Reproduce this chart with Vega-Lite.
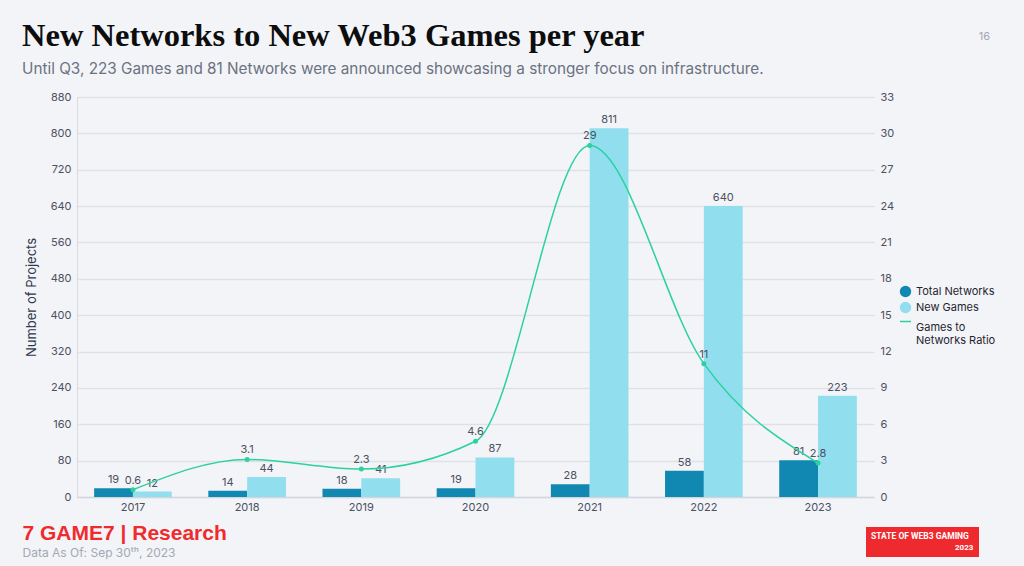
{
  "$schema": "https://vega.github.io/schema/vega-lite/v6.json",
  "width": 797,
  "height": 400,
  "autosize": {"type": "none"},
  "padding": {"left": 77, "top": 97, "right": 150, "bottom": 69},
  "background": "#f3f4f8",
  "title": {
    "text": "New Networks to New Web3 Games per year",
    "subtitle": "Until Q3, 223 Games and 81 Networks were announced showcasing a stronger focus on infrastructure.",
    "anchor": "start",
    "frame": "group",
    "dx": -55,
    "offset": -47,
    "font": "Liberation Serif",
    "fontSize": 32.5,
    "fontWeight": "bold",
    "color": "#0d0d0d",
    "subtitleFont": "Inter",
    "subtitleFontSize": 15.3,
    "subtitleColor": "#6b7280",
    "subtitlePadding": 9
  },
  "datasets": {
    "projects": [
      {"year": "2017", "series": "Total Networks", "count": 19},
      {"year": "2017", "series": "New Games", "count": 12},
      {"year": "2018", "series": "Total Networks", "count": 14},
      {"year": "2018", "series": "New Games", "count": 44},
      {"year": "2019", "series": "Total Networks", "count": 18},
      {"year": "2019", "series": "New Games", "count": 41},
      {"year": "2020", "series": "Total Networks", "count": 19},
      {"year": "2020", "series": "New Games", "count": 87},
      {"year": "2021", "series": "Total Networks", "count": 28},
      {"year": "2021", "series": "New Games", "count": 811},
      {"year": "2022", "series": "Total Networks", "count": 58},
      {"year": "2022", "series": "New Games", "count": 640},
      {"year": "2023", "series": "Total Networks", "count": 81},
      {"year": "2023", "series": "New Games", "count": 223}
    ],
    "ratio": [
      {"year": "2017", "ratio": 0.6},
      {"year": "2018", "ratio": 3.1},
      {"year": "2019", "ratio": 2.3},
      {"year": "2020", "ratio": 4.6},
      {"year": "2021", "ratio": 29},
      {"year": "2022", "ratio": 11},
      {"year": "2023", "ratio": 2.8}
    ]
  },
  "layer": [
    {
      "data": {"name": "projects"},
      "encoding": {
        "x": {
          "field": "year",
          "type": "nominal",
          "scale": {"paddingInner": 0.32, "paddingOuter": 0.15},
          "axis": {
            "title": "7 GAME7 | Research",
            "titleFont": "Liberation Sans",
            "titleFontSize": 21,
            "titleFontWeight": "bold",
            "titleColor": "#ef2b2d",
            "titleAnchor": "start",
            "titleAlign": "left",
            "titleBaseline": "alphabetic",
            "titleX": -55,
            "titleY": 42,
            "labelAngle": 0,
            "labelFont": "Inter",
            "labelFontSize": 11,
            "labelColor": "#4b5160",
            "labelPadding": 4,
            "ticks": false,
            "domainColor": "#d3d6dc",
            "domainWidth": 1.5
          }
        },
        "xOffset": {"field": "series", "sort": ["Total Networks", "New Games"]},
        "y": {
          "field": "count",
          "type": "quantitative",
          "scale": {"domain": [0, 880]},
          "axis": {
            "title": "Number of Projects",
            "titleFont": "Inter",
            "titleFontSize": 13,
            "titleFontWeight": "normal",
            "titleColor": "#2d3748",
            "titlePadding": 12,
            "values": [0, 80, 160, 240, 320, 400, 480, 560, 640, 720, 800, 880],
            "labelFont": "Inter",
            "labelFontSize": 11,
            "labelColor": "#4b5160",
            "labelPadding": 6,
            "ticks": false,
            "gridColor": "#dfe1e6",
            "gridWidth": 1.5,
            "domainColor": "#d9dbe0"
          }
        }
      },
      "layer": [
        {
          "mark": {"type": "bar"},
          "encoding": {
            "color": {
              "field": "series",
              "type": "nominal",
              "sort": ["Total Networks", "New Games"],
              "scale": {"domain": ["Total Networks", "New Games"], "range": ["#1088b1", "#91dfee"]},
              "legend": {
                "title": null,
                "orient": "none",
                "legendX": 822,
                "legendY": 188,
                "symbolType": "circle",
                "symbolSize": 130,
                "symbolOpacity": 1,
                "labelFont": "Inter",
                "labelFontSize": 11,
                "labelColor": "#1f2430",
                "rowPadding": 3
              }
            }
          }
        },
        {
          "mark": {"type": "text", "dy": -8, "font": "Inter", "fontSize": 11, "color": "#4b5160"},
          "encoding": {"text": {"field": "count", "type": "quantitative"}}
        }
      ]
    },
    {
      "data": {"name": "ratio"},
      "encoding": {
        "x": {
          "field": "year",
          "type": "nominal",
          "axis": {
            "orient": "top",
            "labels": false,
            "ticks": false,
            "domain": false,
            "grid": false,
            "title": "16",
            "titleFont": "Inter",
            "titleFontSize": 11,
            "titleFontWeight": "normal",
            "titleColor": "#a3a8b3",
            "titleAnchor": "start",
            "titleAlign": "center",
            "titleBaseline": "middle",
            "titleX": 907,
            "titleY": -61
          }
        },
        "y": {
          "field": "ratio",
          "type": "quantitative",
          "scale": {"domain": [0, 33]},
          "axis": {
            "orient": "right",
            "values": [0, 3, 6, 9, 12, 15, 18, 21, 24, 27, 30, 33],
            "grid": false,
            "domain": false,
            "ticks": false,
            "labelFont": "Inter",
            "labelFontSize": 11,
            "labelColor": "#4b5160",
            "labelPadding": 6,
            "title": "Data As Of: Sep 30ᵗʰ, 2023",
            "titleAngle": 0,
            "titleAlign": "left",
            "titleBaseline": "alphabetic",
            "titleX": -852,
            "titleY": 459,
            "titleFont": "Inter",
            "titleFontSize": 12,
            "titleFontWeight": "normal",
            "titleColor": "#a3a8b3"
          }
        }
      },
      "layer": [
        {
          "mark": {"type": "line", "interpolate": "monotone", "strokeWidth": 1.5},
          "encoding": {
            "stroke": {
              "datum": "Games to Networks Ratio",
              "scale": {"range": ["#2bd19f"]},
              "legend": {
                "title": null,
                "orient": "none",
                "legendX": 822,
                "legendY": 218,
                "symbolType": "stroke",
                "symbolStrokeWidth": 1.5,
                "symbolSize": 120,
                "labelFont": "Inter",
                "labelFontSize": 11,
                "labelColor": "#1f2430",
                "labelBaseline": "top",
                "labelOffset": 4,
                "labelExpr": "['Games to', 'Networks Ratio']"
              }
            }
          }
        },
        {
          "mark": {"type": "point", "filled": true, "size": 25, "opacity": 1, "color": "#2bd19f"},
          "encoding": {
            "shape": {
              "datum": "2023",
              "scale": {"range": ["circle"]},
              "legend": {
                "title": "STATE OF WEB3 GAMING",
                "orient": "none",
                "legendX": 789,
                "legendY": 430,
                "fillColor": "#ee2a2e",
                "padding": 5,
                "titleFont": "Roboto",
                "titleFontSize": 8.5,
                "titleFontWeight": "bold",
                "titleColor": "#ffffff",
                "titlePadding": 3,
                "symbolOpacity": 0,
                "symbolSize": 1,
                "labelFont": "Roboto",
                "labelFontSize": 8,
                "labelFontWeight": "bold",
                "labelColor": "#ffffff",
                "labelOffset": 76
              }
            }
          }
        },
        {
          "mark": {"type": "text", "dy": -9, "font": "Inter", "fontSize": 11, "color": "#4b5160"},
          "encoding": {"text": {"field": "ratio", "type": "quantitative"}}
        }
      ]
    }
  ],
  "resolve": {"scale": {"y": "independent"}, "axis": {"x": "independent"}},
  "config": {
    "view": {"stroke": null},
    "font": "Inter"
  }
}
